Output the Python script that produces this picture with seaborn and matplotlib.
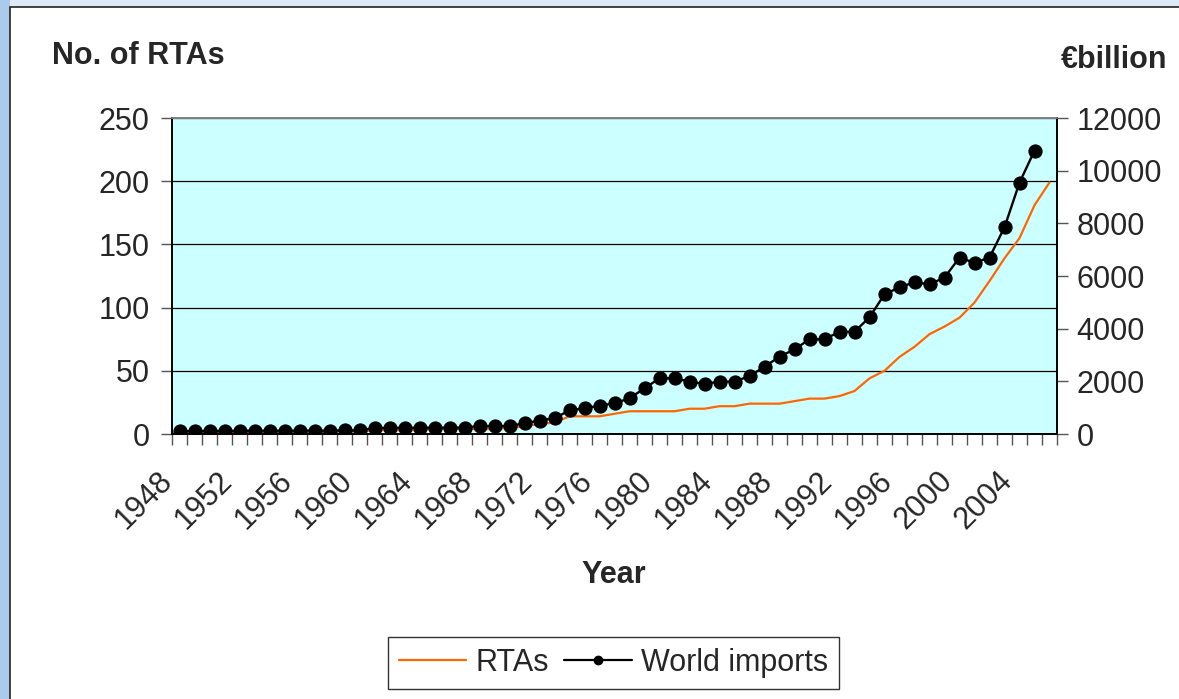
import seaborn as sns
import matplotlib.pyplot as plt
import matplotlib.transforms as mtransforms
import numpy as np
import pandas as pd
from matplotlib.lines import Line2D
from matplotlib.patches import Rectangle

# data
years = list(range(1948, 2007))
rtas = [1, 1, 1, 1, 1, 1, 1, 1, 1, 1,
        2, 2, 2,
        3, 3, 3, 3,
        4, 4, 4, 4, 4,
        5, 6, 8, 9,
        14, 14, 14, 16,
        18, 18, 18, 18,
        20, 20, 22, 22,
        24, 24, 24, 26,
        28, 28, 30, 34,
        44, 50, 61, 69,
        79, 85, 92, 104,
        121, 139, 155, 181, 199]
import_years = list(range(1948, 2006))
world_imports = [110, 110, 115, 120, 120, 125, 125, 125, 130, 130, 130, 135, 135,
                 230, 230, 235, 235, 240, 240, 245,
                 300, 300, 305,
                 405, 510, 600, 895, 975, 1075, 1165, 1355, 1735,
                 2115, 2115, 1990, 1900, 1990, 1990, 2200, 2555, 2935, 3215,
                 3595, 3595, 3885, 3885, 4430, 5305, 5570, 5760, 5685, 5940,
                 6700, 6500, 6700, 7850, 9545, 10760]
tick_years = list(range(1948, 2006, 4))

rta_df = pd.DataFrame({'idx': np.arange(len(years)), 'rtas': rtas})
imp_df = pd.DataFrame({'idx': np.arange(len(import_years)), 'imports': world_imports})

sns.set_style("white")
plt.rcParams['font.family'] = ['Liberation Sans', 'DejaVu Sans']

orange = '#ff6600'
fig = plt.figure(figsize=(11.79, 6.99), dpi=100, facecolor='#dde9f5')
# darker strip on the left, white chart panel on top
fig.add_artist(Rectangle((0, 0), 10 / 1179, 1, transform=fig.transFigure,
                         facecolor='#aacbec', edgecolor='none', zorder=0))
fig.add_artist(Rectangle((10 / 1179, -0.01), 1.0, 1 - 7 / 699 + 0.01,
                         transform=fig.transFigure, facecolor='white',
                         edgecolor='#222222', linewidth=1.2, zorder=0))

ax = fig.add_axes([172 / 1179, 1 - 434 / 699, 885 / 1179, 316 / 699])
ax.set_facecolor('#ccffff')
sns.lineplot(data=rta_df, x='idx', y='rtas', color=orange, linewidth=1.6, ax=ax)
ax.set_ylim(0, 250)
ax.set_yticks(range(0, 251, 50))
ax.set_xlim(-0.5, len(years) - 0.5)
ax.yaxis.grid(True, color='black', linewidth=0.9)
ax.set_axisbelow(True)

ax2 = ax.twinx()
sns.lineplot(data=imp_df, x='idx', y='imports', color='black', linewidth=1.7,
             marker='o', markersize=9.5, markeredgecolor='black', ax=ax2)
ax2.set_ylim(0, 12000)
ax2.set_yticks(range(0, 12001, 2000))
ax2.set_xlim(-0.5, len(years) - 0.5)

# x ticks: labels at category centers, tick marks at boundaries
ax.set_xticks([years.index(y) for y in tick_years])
ax.set_xticklabels([str(y) for y in tick_years], rotation=45, ha='right',
                   rotation_mode='anchor', fontsize=22)
ax.tick_params(axis='x', which='major', length=0, pad=14)
shift = mtransforms.ScaledTranslation(-0.22, -0.12, fig.dpi_scale_trans)
for lbl in ax.get_xticklabels():
    lbl.set_transform(lbl.get_transform() + shift)
ax.set_xticks(np.arange(-0.5, len(years), 1), minor=True)
ax.tick_params(axis='x', which='minor', bottom=True, length=8, width=1, color='#555555')
ax.tick_params(axis='y', left=True, length=8, width=1, color='#555555', labelsize=22, pad=8)
ax2.tick_params(axis='y', right=True, length=8, width=1, color='#555555', labelsize=22, pad=6)

for a in (ax, ax2):
    a.set_xlabel('')
    a.set_ylabel('')
    for s in ('left', 'bottom', 'right'):
        a.spines[s].set_color('black')
        a.spines[s].set_linewidth(1.2)
    a.spines['top'].set_color('#808080')
    a.spines['top'].set_linewidth(1.2)

fig.text(52 / 1179, 1 - 56 / 699, 'No. of RTAs', fontsize=22, fontweight='bold',
         ha='left', va='center')
fig.text(1167 / 1179, 1 - 60 / 699, '€billion', fontsize=22, fontweight='bold',
         ha='right', va='center')
fig.text(614 / 1179, 1 - 575 / 699, 'Year', fontsize=22, fontweight='bold',
         ha='center', va='center')

handles = [Line2D([], [], color=orange, linewidth=1.6),
           Line2D([], [], color='black', linewidth=1.6, marker='o', markersize=6)]
leg = fig.legend(handles, ['RTAs', 'World imports'], loc='center',
                 bbox_to_anchor=(613.5 / 1179, 1 - 663 / 699), ncol=2,
                 fontsize=22, frameon=True, fancybox=False, shadow=False,
                 handlelength=2.2, handletextpad=0.3, columnspacing=0.5,
                 borderpad=0.35)
leg.get_frame().set_edgecolor('black')
leg.get_frame().set_linewidth(1.0)

fig.savefig('out.png', dpi=100, facecolor=fig.get_facecolor())
